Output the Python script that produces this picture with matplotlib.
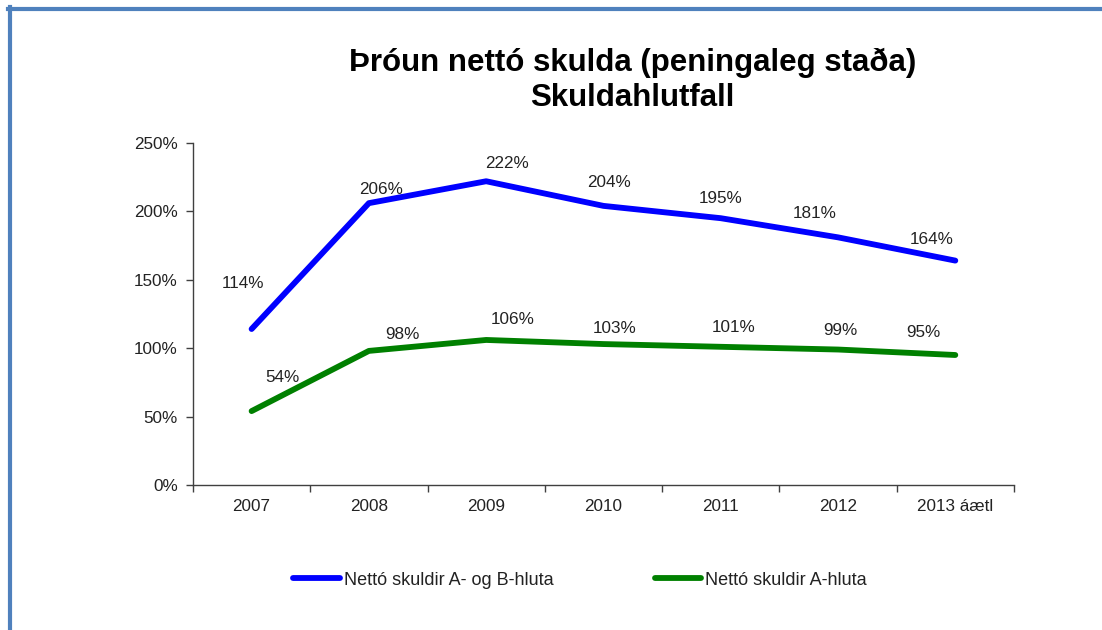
import matplotlib.pyplot as plt
from matplotlib.lines import Line2D
from matplotlib.ticker import FixedLocator, PercentFormatter

plt.rcParams['font.family'] = ['Liberation Sans', 'DejaVu Sans']

years = ["2007", "2008", "2009", "2010", "2011", "2012", "2013 áætl"]
ab_hluta = [114, 206, 222, 204, 195, 181, 164]
a_hluta = [54, 98, 106, 103, 101, 99, 95]
ab_label = "Nettó skuldir A- og B-hluta"
a_label = "Nettó skuldir A-hluta"

# label offsets in points (hand placed like the excel chart)
ab_offsets = [(-6, 33), (9, 10), (15, 13), (4, 17), (0, 14), (-17, 17), (-17, 15)]
a_offsets = [(22, 24), (24, 12), (19, 15), (8, 11), (9, 14), (2, 14), (-23, 16)]

fig = plt.figure(figsize=(11.02, 6.30), dpi=100)
ax = fig.add_axes([0.1751, 0.2302, 0.745, 0.5429])

x = list(range(len(years)))
ax.plot(x, ab_hluta, color='#0000FF', lw=4.2, solid_capstyle='round', label=ab_label)
ax.plot(x, a_hluta, color='#008000', lw=4.2, solid_capstyle='round', label=a_label)

for i, v in enumerate(ab_hluta):
    ax.annotate(f"{v}%", (i, v), xytext=ab_offsets[i], textcoords='offset points',
                ha='center', va='center', fontsize=12.3, color='#222222')
for i, v in enumerate(a_hluta):
    ax.annotate(f"{v}%", (i, v), xytext=a_offsets[i], textcoords='offset points',
                ha='center', va='center', fontsize=12.3, color='#222222')

ax.set_xlim(-0.5, len(years) - 0.5)
ax.set_ylim(0, 250)
ax.set_yticks([0, 50, 100, 150, 200, 250])
ax.yaxis.set_major_formatter(PercentFormatter(decimals=0))
ax.set_xticks(x)
ax.set_xticklabels(years)
ax.xaxis.set_minor_locator(FixedLocator([i - 0.5 for i in range(len(years) + 1)]))
ax.tick_params(axis='x', which='major', length=0, pad=10, labelsize=12.3, labelcolor='#222222')
ax.tick_params(axis='x', which='minor', length=5, width=1, color='#404040', direction='out')
ax.tick_params(axis='y', length=5, width=1, color='#404040', pad=6, labelsize=12.3, labelcolor='#222222')
for s in ['top', 'right']:
    ax.spines[s].set_visible(False)
for s in ['left', 'bottom']:
    ax.spines[s].set_color('#404040')
    ax.spines[s].set_linewidth(1)

fig.text(0.574, 0.872, "Þróun nettó skulda (peningaleg staða)\nSkuldahlutfall", ha='center', va='center',
         fontsize=22.5, fontweight='bold', linespacing=1.22, color='black')

fig.legend(loc='center', bbox_to_anchor=(0.5265, 0.079), ncol=2, frameon=False, fontsize=13,
           handlelength=2.55, handletextpad=0.25, columnspacing=5.6, labelcolor='#222222')

# blue frame edges of the original screenshot
fig.add_artist(Line2D([8 / 1102, 1], [1 - 8.5 / 630, 1 - 8.5 / 630], color='#4F81BD', lw=3, transform=fig.transFigure))
fig.add_artist(Line2D([10 / 1102, 10 / 1102], [0, 1 - 7 / 630], color='#4F81BD', lw=3, transform=fig.transFigure))

fig.savefig("out.png", dpi=100)
